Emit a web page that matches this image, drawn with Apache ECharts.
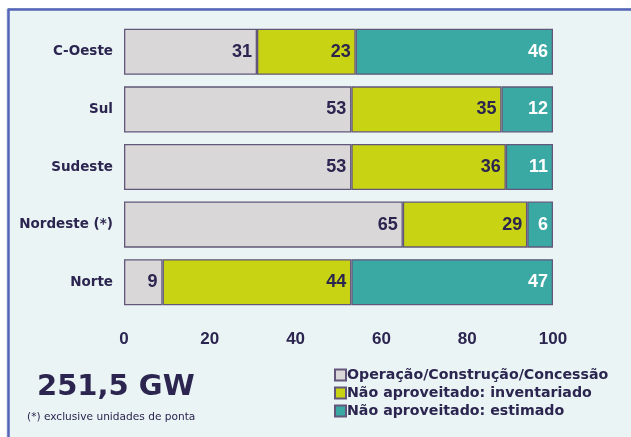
<!DOCTYPE html>
<html>
<head>
<meta charset="utf-8">
<script src="https://cdn.jsdelivr.net/npm/echarts@6/dist/echarts.min.js"></script>
<style>
  html, body { margin: 0; padding: 0; background: #ffffff; }
  #chart { width: 631px; height: 437px; }
</style>
</head>
<body>
<div id="chart"></div>
<script>
// Regions (top to bottom) and the share of each potential category (%)
const regions = ['C-Oeste', 'Sul', 'Sudeste', 'Nordeste (*)', 'Norte'];
const operacao = [31, 53, 53, 65, 9];
const inventariado = [23, 35, 36, 29, 44];
const estimado = [46, 12, 11, 6, 47];
const seriesNames = [
  'Operação/Construção/Concessão',
  'Não aproveitado: inventariado',
  'Não aproveitado: estimado'
];
const xTicks = { min: 0, max: 100, step: 20 };
const totalText = '251,5 GW';
const noteText = '(*) exclusive unidades de ponta';

const ink = '#2b2550';
const edge = '#62577a';
const colors = ['#d9d7d7', '#c8d314', '#3aa8a3'];
const labelColors = [ink, ink, '#ffffff'];

const chart = echarts.init(document.getElementById('chart'), null, { renderer: 'canvas' });

function barSeries(name, data, i) {
  return {
    name: name,
    type: 'bar',
    stack: 'total',
    data: data,
    barCategoryGap: '20%',
    itemStyle: { color: colors[i], borderColor: edge, borderWidth: 1.3 },
    label: {
      show: true,
      position: 'insideRight',
      distance: 5,
      color: labelColors[i],
      fontFamily: 'Liberation Sans, Arial, sans-serif',
      fontWeight: 'bold',
      fontSize: 18
    },
    emphasis: { disabled: true }
  };
}

chart.setOption({
  animation: false,
  backgroundColor: '#ffffff',
  graphic: [
    {
      type: 'rect', z: -10, silent: true,
      shape: { x: 7, y: 8.5, width: 626, height: 430 },
      style: { fill: '#eaf4f4', stroke: '#c5d2de', lineWidth: 1 }
    },
    {
      type: 'line', z: -9, silent: true,
      shape: { x1: 8, y1: 9.5, x2: 631, y2: 9.5 },
      style: { stroke: '#5565b8', lineWidth: 2.5 }
    },
    {
      type: 'line', z: -9, silent: true,
      shape: { x1: 8.5, y1: 9, x2: 8.5, y2: 437 },
      style: { stroke: '#5565b8', lineWidth: 2.5 }
    },
    {
      type: 'text', left: 37, top: 373,
      style: { text: totalText, fill: ink, font: 'bold 29px "DejaVu Sans", Verdana, sans-serif' }
    },
    {
      type: 'text', left: 27, top: 412,
      style: { text: noteText, fill: ink, font: '10.6px "DejaVu Sans", Verdana, sans-serif' }
    }
  ],
  grid: { left: 124, right: 78, top: 23, bottom: 126, containLabel: false },
  legend: {
    orient: 'vertical',
    left: 329,
    top: 363,
    itemWidth: 11,
    itemHeight: 11,
    itemGap: 4,
    icon: 'rect',
    selectedMode: false,
    textStyle: {
      color: ink,
      fontFamily: '"DejaVu Sans", Verdana, sans-serif',
      fontWeight: 'bold',
      fontSize: 14.2,
      padding: [0, 0, 0, -4]
    },
    data: seriesNames
  },
  xAxis: {
    type: 'value',
    min: xTicks.min,
    max: xTicks.max,
    interval: xTicks.step,
    axisLine: { show: false },
    axisTick: { show: false },
    splitLine: { show: false },
    axisLabel: {
      margin: 20,
      color: ink,
      fontFamily: 'Liberation Sans, Arial, sans-serif',
      fontWeight: 'bold',
      fontSize: 17
    }
  },
  yAxis: {
    type: 'category',
    inverse: true,
    data: regions,
    axisLine: { show: false },
    axisTick: { show: false },
    axisLabel: {
      margin: 11,
      color: ink,
      fontFamily: '"DejaVu Sans", Verdana, sans-serif',
      fontWeight: 'bold',
      fontSize: 13.5
    }
  },
  series: [
    barSeries(seriesNames[0], operacao, 0),
    barSeries(seriesNames[1], inventariado, 1),
    barSeries(seriesNames[2], estimado, 2)
  ]
});
</script>
</body>
</html>
